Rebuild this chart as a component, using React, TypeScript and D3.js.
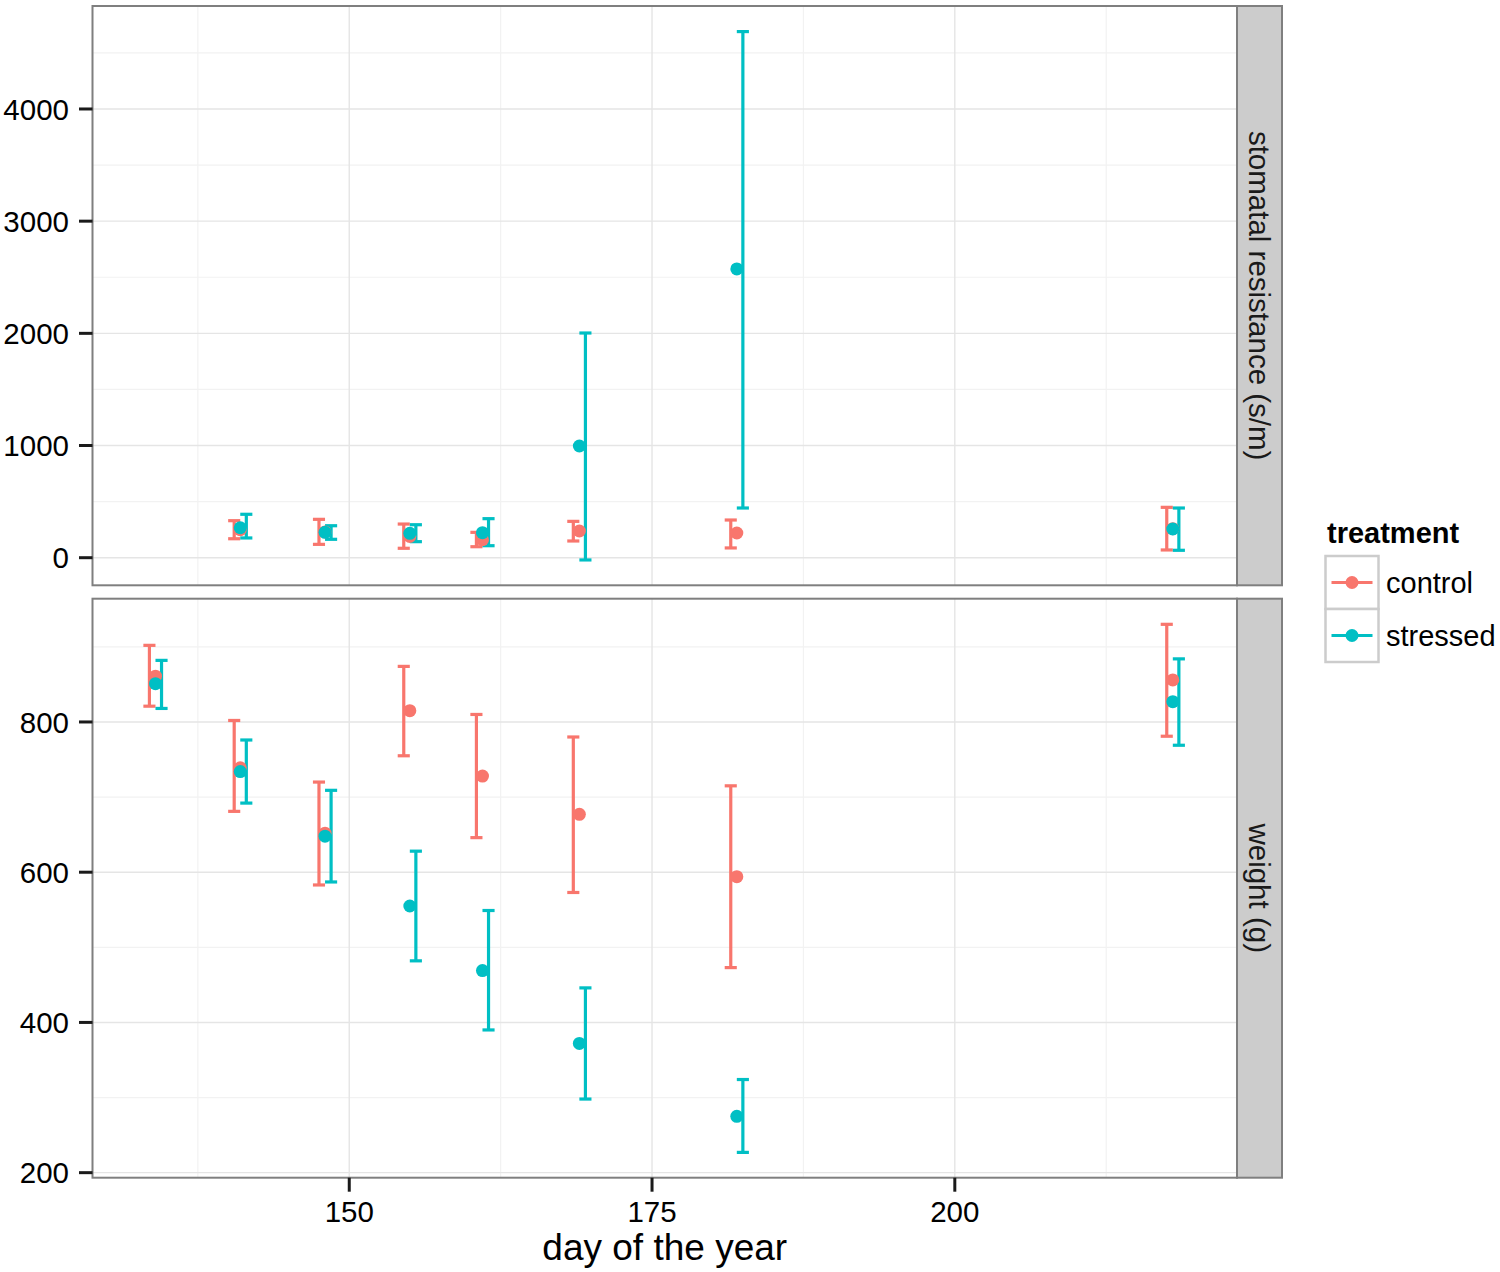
import React from "react";
import * as d3 from "d3";

// stomatal resistance (s/m) panel
const stomaDays = [141, 148, 155, 161, 169, 182, 218];
const stomaControlMean = [250, 230, 190, 160, 238, 220, 259];
const stomaControlLow = [169, 119, 84, 98, 149, 87, 69];
const stomaControlHigh = [330, 342, 300, 226, 324, 336, 449];
const stomaStressedMean = [267, 226, 217, 223, 996, 2574, 256];
const stomaStressedLow = [176, 164, 143, 107, -20, 443, 66];
const stomaStressedHigh = [387, 285, 294, 348, 2003, 4690, 443];

// weight (g) panel
const weightDays = [134, 141, 148, 155, 161, 169, 182, 218];
const weightControlMean = [861, 739, 652, 815, 728, 677, 594, 856];
const weightControlLow = [821, 681, 583, 755, 646, 573, 473, 781];
const weightControlHigh = [902, 802, 720, 874, 810, 780, 715, 930];
const weightStressedMean = [851, 734, 648, 555, 469, 372, 275, 827];
const weightStressedLow = [818, 692, 587, 482, 390, 298, 227, 769];
const weightStressedHigh = [882, 776, 709, 628, 549, 446, 324, 884];

const xTicks = [150, 175, 200];
const xMinor = [137.5, 162.5, 187.5, 212.5];
const stomaTicks = [0, 1000, 2000, 3000, 4000];
const stomaMinor = [500, 1500, 2500, 3500, 4500];
const weightTicks = [200, 400, 600, 800];
const weightMinor = [300, 500, 700, 900];

const treatments = ["control", "stressed"];
const colors = ["#F8766D", "#00BFC4"];

const FONT = "Liberation Sans, Arial, Helvetica, sans-serif";
const W = 1500;
const H = 1272;
const left = 92.5;
const right = 1237;
const stripW = 45;

type Series = { mean: number[]; low: number[]; high: number[] };

function Panel({
  y0,
  y1,
  domain,
  ticks,
  minor,
  days,
  series,
  strip,
  x,
}: {
  y0: number;
  y1: number;
  domain: [number, number];
  ticks: number[];
  minor: number[];
  days: number[];
  series: Series[];
  strip: string;
  x: d3.ScaleLinear<number, number>;
}) {
  const y = d3.scaleLinear().domain(domain).range([y1, y0]);
  const dodge = 0.5;
  const cap = 0.5;
  return (
    <g>
      <rect x={left} y={y0} width={right - left} height={y1 - y0} fill="#fff" />
      {minor.map((v) => (
        <line key={"hm" + v} x1={left} x2={right} y1={y(v)} y2={y(v)} stroke="#F2F2F2" strokeWidth={1.2} />
      ))}
      {xMinor.map((v) => (
        <line key={"vm" + v} x1={x(v)} x2={x(v)} y1={y0} y2={y1} stroke="#F2F2F2" strokeWidth={1.2} />
      ))}
      {ticks.map((v) => (
        <line key={"h" + v} x1={left} x2={right} y1={y(v)} y2={y(v)} stroke="#E5E5E5" strokeWidth={1.4} />
      ))}
      {xTicks.map((v) => (
        <line key={"v" + v} x1={x(v)} x2={x(v)} y1={y0} y2={y1} stroke="#E5E5E5" strokeWidth={1.4} />
      ))}
      {/* error bars */}
      {series.map((s, si) =>
        days.map((d, i) => {
          const cx = x(d + (si === 0 ? -dodge : dodge));
          const xl = x(d + (si === 0 ? -dodge : dodge) - cap);
          const xr = x(d + (si === 0 ? -dodge : dodge) + cap);
          return (
            <g key={`eb${si}-${i}`} stroke={colors[si]} strokeWidth={3.2}>
              <line x1={cx} x2={cx} y1={y(s.low[i])} y2={y(s.high[i])} />
              <line x1={xl} x2={xr} y1={y(s.low[i])} y2={y(s.low[i])} />
              <line x1={xl} x2={xr} y1={y(s.high[i])} y2={y(s.high[i])} />
            </g>
          );
        })
      )}
      {/* points */}
      {series.map((s, si) =>
        days.map((d, i) => (
          <circle key={`pt${si}-${i}`} cx={x(d)} cy={y(s.mean[i])} r={6.5} fill={colors[si]} />
        ))
      )}
      <rect x={left} y={y0} width={right - left} height={y1 - y0} fill="none" stroke="#7F7F7F" strokeWidth={2} />
      {/* y axis */}
      {ticks.map((v) => (
        <g key={"yt" + v}>
          <line x1={79} x2={left} y1={y(v)} y2={y(v)} stroke="#1a1a1a" strokeWidth={3} />
          <text x={69} y={y(v)} dy="0.36em" textAnchor="end" fontSize={29.5} fill="#000" fontFamily={FONT}>
            {v}
          </text>
        </g>
      ))}
      {/* strip */}
      <rect x={right} y={y0} width={stripW} height={y1 - y0} fill="#CCCCCC" stroke="#7F7F7F" strokeWidth={2} />
      <text
        transform={`translate(${right + stripW / 2},${(y0 + y1) / 2}) rotate(90)`}
        textAnchor="middle"
        dy="0.35em"
        fontSize={29.5}
        fill="#1a1a1a"
        fontFamily={FONT}
      >
        {strip}
      </text>
    </g>
  );
}

export default function App() {
  const x = d3.scaleLinear().domain([128.8, 223.3]).range([left, right]);

  const stomaSeries: Series[] = [
    { mean: stomaControlMean, low: stomaControlLow, high: stomaControlHigh },
    { mean: stomaStressedMean, low: stomaStressedLow, high: stomaStressedHigh },
  ];
  const weightSeries: Series[] = [
    { mean: weightControlMean, low: weightControlLow, high: weightControlHigh },
    { mean: weightStressedMean, low: weightStressedLow, high: weightStressedHigh },
  ];

  const bottom = 1177.7;
  const keyX = 1325.5;
  const keyY = 556;
  const keySize = 53;

  return (
    <svg
      width={W}
      height={H}
      style={{ position: "absolute", left: 0, top: 0, background: "#fff" }}
      fontFamily={FONT}
    >
      <rect width={W} height={H} fill="#fff" />
      <Panel
        y0={6}
        y1={585.3}
        domain={[-246, 4918]}
        ticks={stomaTicks}
        minor={stomaMinor}
        days={stomaDays}
        series={stomaSeries}
        strip="stomatal resistance (s/m)"
        x={x}
      />
      <Panel
        y0={598.7}
        y1={bottom}
        domain={[193.3, 964.1]}
        ticks={weightTicks}
        minor={weightMinor}
        days={weightDays}
        series={weightSeries}
        strip="weight (g)"
        x={x}
      />
      {/* x axis */}
      {xTicks.map((v) => (
        <g key={"xt" + v}>
          <line x1={x(v)} x2={x(v)} y1={bottom} y2={bottom + 14} stroke="#1a1a1a" strokeWidth={3} />
          <text x={x(v)} y={1222} textAnchor="middle" fontSize={29.5} fill="#000">
            {v}
          </text>
        </g>
      ))}
      <text x={(left + right) / 2} y={1260} textAnchor="middle" fontSize={37} fill="#000">
        day of the year
      </text>
      {/* legend */}
      <text x={1327} y={543} fontSize={29} fontWeight="bold" fill="#000">
        treatment
      </text>
      {treatments.map((t, i) => {
        const ky = keyY + i * keySize;
        return (
          <g key={t}>
            <rect x={keyX} y={ky} width={keySize} height={keySize} fill="#fff" stroke="#CCCCCC" strokeWidth={2.5} />
            <line
              x1={keyX + 6}
              x2={keyX + keySize - 6}
              y1={ky + keySize / 2}
              y2={ky + keySize / 2}
              stroke={colors[i]}
              strokeWidth={3.2}
            />
            <circle cx={keyX + keySize / 2} cy={ky + keySize / 2} r={6.5} fill={colors[i]} />
            <text x={1386} y={ky + keySize / 2} dy="0.36em" fontSize={29} fill="#000">
              {t}
            </text>
          </g>
        );
      })}
    </svg>
  );
}
